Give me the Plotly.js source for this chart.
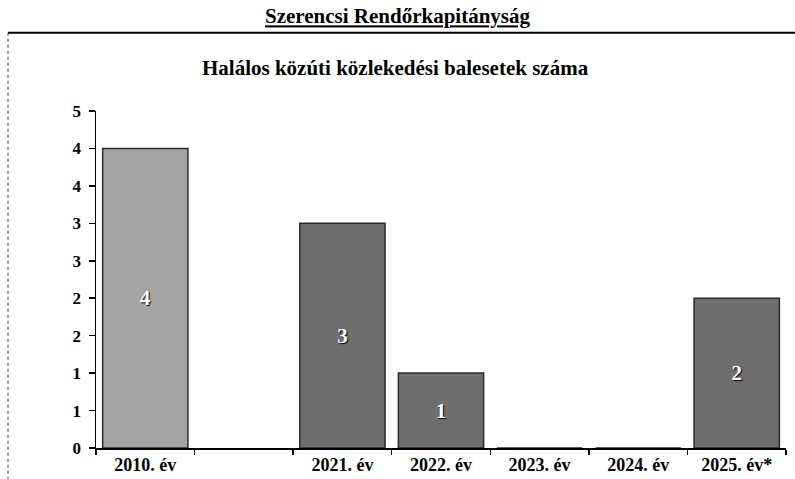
<!DOCTYPE html>
<html>
<head>
<meta charset="utf-8">
<script src="https://cdn.plot.ly/plotly-3.0.1.min.js"></script>
<style>html,body{margin:0;padding:0;background:#fff;}#chart{width:795px;height:479px;}</style>
</head>
<body>
<div id="chart"></div>
<script>
var categories = ["2010. év", " ", "2021. év", "2022. év", "2023. év", "2024. év", "2025. év*"];
var values = [4, null, 3, 1, 0, 0, 2];
var barColors = ["#a4a4a4", "#6e6e6e", "#6e6e6e", "#6e6e6e", "#6e6e6e", "#6e6e6e", "#6e6e6e"];
var yTickVals = [0, 0.5, 1, 1.5, 2, 2.5, 3, 3.5, 4, 4.5];
var yTickText = ["0", "1", "1", "2", "2", "3", "3", "4", "4", "5"];
var mainTitle = "Szerencsi Rendőrkapitányság";
var subTitle = "Halálos közúti közlekedési balesetek száma";

var serif = "Liberation Serif";

var trace = {
  type: "bar",
  x: categories,
  y: values,
  text: values.map(function (v) { return v ? String(v) : ""; }),
  textposition: "inside",
  insidetextanchor: "middle",
  textangle: 0,
  textfont: { family: serif, size: 21, color: "#ffffff", weight: "bold", shadow: "1px 1px 1px #000" },
  marker: { color: barColors, line: { color: "#2a2a2a", width: 1.5 } },
  hoverinfo: "none",
  cliponaxis: false
};

// paper coordinate helpers for the frame (plot area: x 96..786, y 112..448)
function px(x) { return (x - 96) / 690; }
function py(y) { return (448 - y) / 336; }

var layout = {
  width: 795,
  height: 479,
  margin: { l: 96, r: 9, t: 111, b: 31 },
  paper_bgcolor: "#ffffff",
  plot_bgcolor: "#ffffff",
  showlegend: false,
  bargap: 0.135,
  font: { family: serif, color: "#000" },
  title: {
    text: "<u>" + mainTitle + "</u>",
    xref: "container", x: 0.5, xanchor: "center",
    yref: "container", y: 1 - 16 / 479, yanchor: "middle",
    font: { family: serif, size: 21, color: "#000", weight: "bold" }
  },
  annotations: [{
    text: "<b>" + subTitle + "</b>",
    xref: "paper", yref: "paper",
    x: px(395), y: py(69), xanchor: "center", yanchor: "middle",
    showarrow: false,
    font: { family: serif, size: 21, color: "#000" }
  }],
  shapes: [
    { type: "line", xref: "paper", yref: "paper", x0: px(8), x1: px(795), y0: py(34), y1: py(34), line: { color: "#000", width: 2 } },
    { type: "line", xref: "paper", yref: "paper", x0: px(8), x1: px(8), y0: py(34), y1: py(479), line: { color: "#333", width: 1, dash: "dot" } }
  ],
  xaxis: {
    type: "category",
    tickson: "boundaries",
    ticks: "outside",
    ticklen: 5,
    tickcolor: "#000",
    tickwidth: 1.5,
    showline: true,
    linecolor: "#000",
    linewidth: 1.5,
    showgrid: false,
    zeroline: false,
    tickfont: { family: serif, size: 18, color: "#000", weight: "bold" },
    fixedrange: true
  },
  yaxis: {
    range: [0, 4.5],
    tickvals: yTickVals,
    ticktext: yTickText,
    ticks: "outside",
    ticklen: 6,
    tickcolor: "#000",
    tickwidth: 1.5,
    showline: true,
    linecolor: "#000",
    linewidth: 1.5,
    showgrid: false,
    zeroline: false,
    ticklabelstandoff: 4,
    tickfont: { family: serif, size: 17, color: "#000", weight: "bold" },
    fixedrange: true
  }
};

Plotly.newPlot("chart", [trace], layout, { staticPlot: true, displayModeBar: false });
</script>
</body>
</html>
